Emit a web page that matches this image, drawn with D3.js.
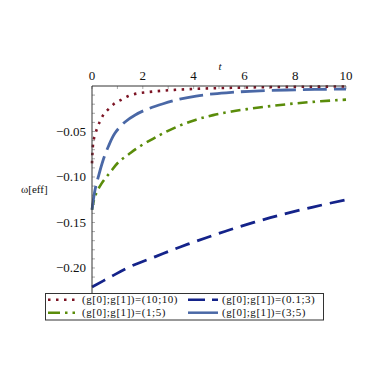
<!DOCTYPE html>
<html><head><meta charset="utf-8">
<script src="https://cdn.jsdelivr.net/npm/d3@7"></script>
<style>body{margin:0;background:#fff}svg{display:block}</style>
</head><body><svg id="c" width="382" height="382"></svg>
<script>
const FONT = "'Liberation Serif', 'Times New Roman', Times, serif";
const xTicks = [0, 2, 4, 6, 8, 10];
const yTicks = [-0.05, -0.10, -0.15, -0.20];
const yTickLabels = ["\u22120.05", "\u22120.10", "\u22120.15", "\u22120.20"];

const seriesNames = ["(g[0];g[1])=(10;10)", "(g[0];g[1])=(0.1;3)", "(g[0];g[1])=(1;5)", "(g[0];g[1])=(3;5)"];

const tRed = [0, 0.02, 0.05, 0.12, 0.2, 0.31, 0.44, 0.64, 0.86, 1.13, 1.43, 1.78, 2.15, 2.5, 2.85, 3.3, 4, 5, 6, 7, 8, 9, 10];
const vRed = [-0.085, -0.072, -0.062, -0.054, -0.0465, -0.039, -0.032, -0.0256, -0.0198, -0.0154, -0.011, -0.0082, -0.0068, -0.0058, -0.005, -0.0042, -0.0032, -0.0023, -0.0017, -0.0012, -0.0009, -0.0007, -0.0005];

const tNavy = [0, 0.75, 1.5, 2.5, 3.5, 4.5, 5.43, 6.4, 7.4, 8.7, 10];
const vNavy = [-0.221, -0.2095, -0.1985, -0.1875, -0.1766, -0.1668, -0.158, -0.1497, -0.1418, -0.133, -0.125];

const tGreen = [0, 0.12, 0.38, 0.71, 1.03, 1.45, 1.9, 2.4, 2.8, 3.45, 4.1, 4.77, 5.5, 6.34, 7.2, 8.05, 9, 10];
const vGreen = [-0.136, -0.121, -0.107, -0.095, -0.084, -0.075, -0.066, -0.058, -0.052, -0.0435, -0.037, -0.032, -0.028, -0.0245, -0.0215, -0.019, -0.0168, -0.015];

const tBlue = [0, 0.12, 0.25, 0.44, 0.64, 0.9, 1.3, 1.7, 2.2, 2.8, 3.45, 4.1, 4.8, 5.5, 6.2, 7, 8, 9, 10];
const vBlue = [-0.136, -0.114, -0.0997, -0.0813, -0.0667, -0.052, -0.0395, -0.0318, -0.0252, -0.0195, -0.0145, -0.011, -0.0086, -0.007, -0.0058, -0.0049, -0.0042, -0.0037, -0.0033];

const svg = d3.select("#c");
svg.append("rect").attr("width", 382).attr("height", 382).attr("fill", "#fff");

const x = d3.scaleLinear().domain([0, 10]).range([92, 346]);
const y = d3.scaleLinear().domain([0, -0.2264]).range([86, 292]);

// minor ticks
const g = svg.append("g");
g.selectAll(".xt").data(d3.range(0, 11, 1)).enter().append("line")
  .attr("x1", d => x(d)).attr("x2", d => x(d)).attr("y1", 86).attr("y2", 89)
  .attr("stroke", "#aaa").attr("stroke-width", 1);
g.selectAll(".yt").data(d3.range(1, 23, 1).map(i => -i * 0.01)).enter().append("line")
  .attr("x1", 92).attr("x2", 95).attr("y1", d => y(d)).attr("y2", d => y(d))
  .attr("stroke", "#aaa").attr("stroke-width", 1);

// curves
const line = d3.line().x(d => x(d[0])).y(d => y(d[1])).curve(d3.curveMonotoneX);
const smooth = d3.line().x(d => x(d[0])).y(d => y(d[1])).curve(d3.curveCatmullRom.alpha(0.5));
const series = [
  {t: tNavy, v: vNavy, color: "#14238a", dash: "15,8", w: 2.8, gen: smooth},
  {t: tGreen, v: vGreen, color: "#5a8c0a", dash: "10,5,2.5,5", w: 2.6, gen: smooth},
  {t: tBlue, v: vBlue, color: "#4a68a6", dash: "24,7", w: 2.8, gen: smooth},
  {t: tRed, v: vRed, color: "#7c1424", dash: "2.5,5.5", w: 2.6, gen: line}
];
series.forEach(s => {
  svg.append("path").datum(s.t.map((t, i) => [t, s.v[i]]))
    .attr("d", s.gen).attr("fill", "none").attr("stroke", s.color)
    .attr("stroke-width", s.w).attr("stroke-dasharray", s.dash);
});

// axes lines
svg.append("line").attr("x1", x(0)).attr("x2", x(10)).attr("y1", 86).attr("y2", 86).attr("stroke", "#333").attr("stroke-width", 1);
svg.append("line").attr("x1", 92).attr("x2", 92).attr("y1", 86).attr("y2", 293).attr("stroke", "#333").attr("stroke-width", 1);

// tick labels
svg.selectAll(".xl").data(xTicks).enter().append("text")
  .attr("x", d => x(d)).attr("y", 80).attr("text-anchor", "middle")
  .attr("font-family", FONT).attr("fill", "#111")
  .attr("font-size", 13).text(d => d);
svg.selectAll(".yl").data(yTicks).enter().append("text")
  .attr("x", 86).attr("y", d => y(d) + 4.5).attr("text-anchor", "end")
  .attr("font-family", FONT).attr("fill", "#111")
  .attr("font-size", 13).text((d, i) => yTickLabels[i]);

// axis labels
svg.append("text").attr("x", 220).attr("y", 70).attr("text-anchor", "middle")
  .attr("font-family", FONT).attr("fill", "#111")
  .attr("font-size", 11).attr("font-style", "italic").text("t");
svg.append("text").attr("x", 21).attr("y", 193).attr("font-family", FONT).attr("fill", "#111")
  .attr("font-size", 11).text("\u03c9[eff]");

// legend
svg.append("rect").attr("x", 45.5).attr("y", 293.5).attr("width", 278).attr("height", 26.5)
  .attr("fill", "#fff").attr("stroke", "#333").attr("stroke-width", 1);
const leg = [
  {s: series[3], name: seriesNames[0], cx: 48, by: 303.3, dash: "2.5,5.5"},
  {s: series[0], name: seriesNames[1], cx: 188, by: 303.3, dash: "17,7"},
  {s: series[1], name: seriesNames[2], cx: 48, by: 316.2, dash: "12,5,2.5,5,2.5,5"},
  {s: series[2], name: seriesNames[3], cx: 188, by: 316.2, dash: null}
];
leg.forEach(l => {
  svg.append("line").attr("x1", l.cx).attr("x2", l.cx + 30).attr("y1", l.by - 3.5).attr("y2", l.by - 3.5)
    .attr("stroke", l.s.color).attr("stroke-width", 2.5)
    .attr("stroke-dasharray", l.dash);
  svg.append("text").attr("x", l.cx + 34).attr("y", l.by).attr("font-family", FONT).attr("fill", "#111")
    .attr("font-size", 11).attr("letter-spacing", 0.55).text(l.name);
});
</script></body></html>
